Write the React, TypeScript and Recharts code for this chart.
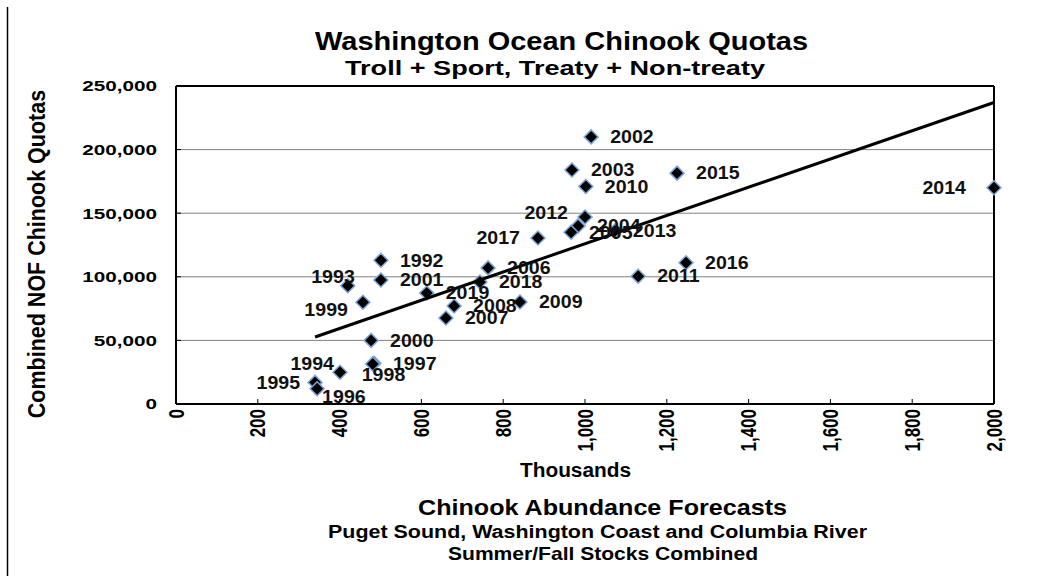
import React from 'react';
import { ScatterChart, Scatter, XAxis, YAxis, CartesianGrid, ReferenceLine } from 'recharts';

// ---- data ----
const years = [1992, 1993, 1994, 1995, 1996, 1997, 1998, 1999, 2000, 2001, 2002, 2003, 2004, 2005, 2006, 2007, 2008, 2009, 2010, 2011, 2012, 2013, 2014, 2015, 2016, 2017, 2018, 2019];
// abundance forecast (thousands)
const forecasts = [501, 420, 401, 340, 345, 484, 481, 457, 477, 501, 1015, 968, 983, 966, 763, 660, 680, 841, 1002, 1130, 1000, 1073, 2000, 1225, 1247, 885, 743, 613];
// combined NOF chinook quotas
const quotas = [113000, 93000, 25000, 17000, 12000, 32000, 31500, 80000, 50000, 97500, 210000, 184000, 140000, 135000, 107000, 67600, 77000, 80200, 171000, 100500, 147000, 136000, 170000, 181500, 111000, 130500, 95900, 87300];
const trendX = [340, 2000];
const trendY = [52700, 237000];
const xTicks = [0, 200, 400, 600, 800, 1000, 1200, 1400, 1600, 1800, 2000];
const yTicks = [0, 50000, 100000, 150000, 200000, 250000];

const points = years.map((year, i) => ({ year, x: forecasts[i], y: quotas[i] }));
const trend = trendX.map((x, i) => ({ x, y: trendY[i] }));

// ---- label placement (style) ----
const LABEL_POS: Record<number, [number, number, 'start' | 'end']> = {
  1993: [7, -9, 'end'],
  1999: [-15, 7, 'end'],
  1994: [-6, -9, 'end'],
  1995: [-15, 0, 'end'],
  1996: [5, 8, 'start'],
  1998: [-11, 11, 'start'],
  2005: [18, 0, 'start'],
  2013: [18, 0, 'start'],
  2017: [-18, 0, 'end'],
  2012: [-17, -4, 'end'],
  2014: [-28, 0, 'end'],
};

const FONT = '"Liberation Sans", Arial, Helvetica, sans-serif';
const PLOT_LEFT = 176;
const PLOT_BOTTOM = 404;

const fmt = (v: number) => v.toLocaleString('en-US');

const Diamond = (props: any) => {
  const { cx, cy } = props;
  if (cx == null || cy == null) return <g />;
  const r = 7;
  return (
    <polygon
      points={`${cx},${cy - r} ${cx + r},${cy} ${cx},${cy + r} ${cx - r},${cy}`}
      fill="#000"
      stroke="#7ea6d8"
      strokeWidth={1.5}
    />
  );
};

const PointLabel = (props: any) => {
  const { cx, cy, payload } = props;
  if (cx == null || cy == null) return <g />;
  const pos = LABEL_POS[payload.year] || [19, 0, 'start'];
  return (
    <g transform={`translate(${cx + pos[0]},${cy + pos[1]}) scale(1.12,1)`}>
      <text x={0} y={0} dy="0.36em" textAnchor={pos[2]} fontFamily={FONT} fontWeight={700} fontSize={17.5} fill="#111">
        {payload.year}
      </text>
    </g>
  );
};

const NoShape = () => <g />;

const XTick = (props: any) => {
  const { x, payload } = props;
  return (
    <g>
      <line x1={x} y1={PLOT_BOTTOM} x2={x} y2={PLOT_BOTTOM - 5} stroke="#000" strokeWidth={1} />
      <g transform={`translate(${x},${PLOT_BOTTOM + 5}) scale(1.25,1) rotate(-90)`}>
        <text x={0} y={0} dy="0.36em" textAnchor="end" fontFamily={FONT} fontWeight={700} fontSize={17} fill="#000">
          {fmt(payload.value)}
        </text>
      </g>
    </g>
  );
};

const YTick = (props: any) => {
  const { y, payload } = props;
  return (
    <g>
      <line x1={PLOT_LEFT} y1={y} x2={PLOT_LEFT + 5} y2={y} stroke="#000" strokeWidth={1} />
      <g transform={`translate(${PLOT_LEFT - 19},${y}) scale(1.38,1)`}>
        <text x={0} y={0} dy="0.36em" textAnchor="end" fontFamily={FONT} fontWeight={700} fontSize={15} fill="#000">
          {fmt(payload.value)}
        </text>
      </g>
    </g>
  );
};

export default function App() {
  const t = { fontFamily: FONT, fontWeight: 700, fill: '#000' } as const;
  return (
    <div style={{ position: 'absolute', left: 0, top: 0, width: 1044, height: 576, background: '#fff' }}>
      <ScatterChart width={1044} height={576} margin={{ top: 86, right: 50, bottom: 142, left: 116 }}>
        <CartesianGrid horizontal vertical={false} stroke="#808080" strokeWidth={1} />
        <XAxis
          type="number"
          dataKey="x"
          domain={[0, 2000]}
          ticks={xTicks}
          height={30}
          axisLine={{ stroke: '#000', strokeWidth: 2 }}
          tickLine={false}
          tick={XTick}
          interval={0}
        />
        <YAxis
          type="number"
          dataKey="y"
          domain={[0, 250000]}
          ticks={yTicks}
          width={60}
          axisLine={{ stroke: '#000', strokeWidth: 2 }}
          tickLine={false}
          tick={YTick}
          interval={0}
        />
        <ReferenceLine y={250000} stroke="#000" strokeWidth={2} />
        <ReferenceLine x={2000} stroke="#000" strokeWidth={2} />
        <Scatter data={points} shape={Diamond} isAnimationActive={false} />
        <Scatter data={trend} shape={NoShape} line={{ stroke: '#000', strokeWidth: 3 }} isAnimationActive={false} />
        <Scatter data={points} shape={PointLabel} isAnimationActive={false} />
      </ScatterChart>
      <svg width={1044} height={576} style={{ position: 'absolute', left: 0, top: 0, pointerEvents: 'none' }}>
        <line x1={7.5} y1={7} x2={7.5} y2={576} stroke="#000" strokeWidth={1.5} />
        <text x={315} y={50} fontSize={26} textLength={493} lengthAdjust="spacingAndGlyphs" {...t}>
          Washington Ocean Chinook Quotas
        </text>
        <text x={345} y={75} fontSize={20} textLength={420} lengthAdjust="spacingAndGlyphs" {...t}>
          Troll + Sport, Treaty + Non-treaty
        </text>
        <text transform="translate(45,254) scale(1.15,1) rotate(-90)" textAnchor="middle" fontSize={21.5} {...t}>
          Combined NOF Chinook Quotas
        </text>
        <text x={520} y={477} fontSize={20} textLength={111} lengthAdjust="spacingAndGlyphs" {...t}>
          Thousands
        </text>
        <text x={418} y={515} fontSize={22} textLength={369} lengthAdjust="spacingAndGlyphs" {...t}>
          Chinook Abundance Forecasts
        </text>
        <text x={328} y={538} fontSize={18} textLength={539} lengthAdjust="spacingAndGlyphs" {...t}>
          Puget Sound, Washington Coast and Columbia River
        </text>
        <text x={448} y={560} fontSize={19} textLength={310} lengthAdjust="spacingAndGlyphs" {...t}>
          Summer/Fall Stocks Combined
        </text>
      </svg>
    </div>
  );
}
